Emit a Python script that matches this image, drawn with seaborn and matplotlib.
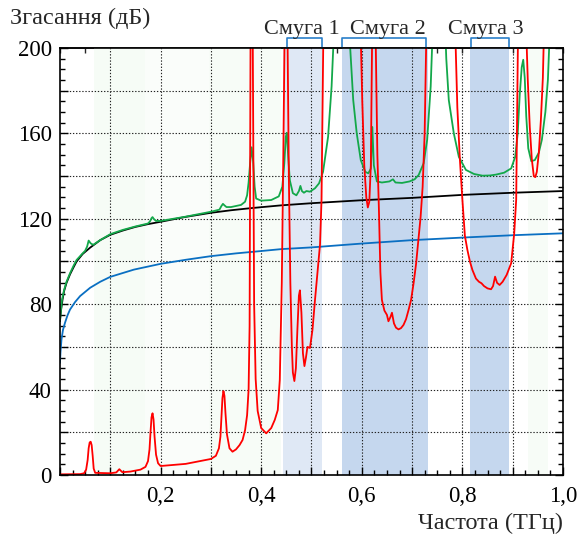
import matplotlib
matplotlib.use('Agg')
import matplotlib.pyplot as plt
import seaborn as sns
from matplotlib.ticker import MultipleLocator, FuncFormatter

# --- значення ---
black_x = [0.0, 0.002, 0.005, 0.008, 0.013, 0.02, 0.027, 0.033, 0.045, 0.06, 0.08, 0.1, 0.125,
           0.15, 0.175, 0.2, 0.25, 0.3, 0.34, 0.38, 0.44, 0.5, 0.6, 0.7, 0.8, 0.9, 1.0]
black_y = [72.0, 77.0, 82.0, 86.0, 90.0, 94.0, 97.3, 100.0, 103.5, 106.5, 110.0, 112.5, 114.5,
           116.2, 117.5, 118.6, 120.9, 122.8, 124.0, 125.0, 126.3, 127.3, 128.7, 129.8, 131.2, 132.2, 133.0]

blue_x = [0.0, 0.001, 0.003, 0.006, 0.01, 0.015, 0.02, 0.03, 0.04, 0.06, 0.08, 0.1, 0.147, 0.2,
          0.25, 0.3, 0.35, 0.4, 0.44, 0.5, 0.6, 0.7, 0.8, 0.9, 1.0]
blue_y = [52.5, 57.5, 63.5, 68.0, 71.3, 74.8, 77.5, 81.0, 83.8, 87.7, 90.5, 92.8, 96.2, 98.9,
          100.8, 102.5, 103.8, 104.9, 105.8, 106.6, 108.4, 110.0, 111.2, 112.3, 113.2]

green_x = [0.0, 0.002, 0.004, 0.008, 0.013, 0.02, 0.027, 0.033, 0.045, 0.05, 0.054, 0.057, 0.061,
           0.066, 0.08, 0.1, 0.125, 0.15, 0.175, 0.179, 0.182, 0.184, 0.187, 0.191, 0.2, 0.25, 0.3,
           0.317, 0.321, 0.324, 0.327, 0.331, 0.34, 0.36, 0.368, 0.372, 0.375, 0.378, 0.381, 0.384,
           0.387, 0.39, 0.4, 0.42, 0.435, 0.442, 0.446, 0.449, 0.451, 0.454,
           0.457, 0.463, 0.47, 0.475, 0.478, 0.481, 0.485, 0.49, 0.497, 0.507, 0.515, 0.523,
           0.533, 0.54, 0.546, 0.573, 0.577, 0.583, 0.59, 0.598, 0.607, 0.613, 0.618, 0.621,
           0.624, 0.63, 0.64, 0.655, 0.662, 0.667, 0.68, 0.695, 0.705, 0.713, 0.723, 0.73,
           0.737, 0.742, 0.765, 0.768, 0.773, 0.783, 0.793, 0.807, 0.823, 0.84, 0.855, 0.867,
           0.883, 0.897, 0.905, 0.91, 0.914, 0.918, 0.921, 0.924, 0.927, 0.931, 0.937, 0.944,
           0.952, 0.958, 0.965, 0.97, 0.975, 1.0]
green_y = [72.6, 77.5, 82.0, 86.5, 90.5, 94.5, 98.0, 100.7, 103.8, 105.0, 107.0, 109.8, 108.5,
           107.8, 110.0, 112.8, 114.8, 116.4, 117.8, 118.8, 120.3, 120.8, 119.8, 119.0, 119.0, 121.0, 123.3,
           124.3, 126.0, 127.0, 126.3, 125.5, 125.5, 126.5, 128.0, 131.0, 137.0, 146.0, 153.5, 147.0,
           135.0, 129.5, 128.5, 128.8, 130.5, 135.0, 146.0, 158.5, 160.3, 148.0,
           138.0, 132.0, 131.0, 133.0, 135.4, 133.0, 132.2, 133.0, 132.7, 134.3, 136.6, 142.0,
           158.4, 182.0, 215.0, 215.0, 200.0, 175.6, 160.0, 147.5, 142.0, 141.3, 143.5, 163.0,
           145.0, 137.5, 137.0, 137.5, 138.5, 137.0, 136.8, 137.5, 138.5, 140.5, 146.0, 157.0,
           182.0, 215.0, 215.0, 195.0, 175.6, 160.0, 149.0, 142.9, 141.0, 140.2, 140.3, 140.7,
           141.6, 143.6, 149.0, 160.0, 178.0, 191.0, 194.5, 186.0, 168.0, 153.0, 147.0, 147.5,
           151.0, 157.0, 170.0, 185.0, 215.0, 215.0]

red_x = [0.0, 0.04, 0.048, 0.052, 0.055, 0.057, 0.059, 0.061, 0.063, 0.065, 0.067, 0.07, 0.1,
         0.112, 0.116, 0.118, 0.12, 0.124, 0.14, 0.16, 0.17, 0.175, 0.178, 0.18, 0.182, 0.184,
         0.186, 0.188, 0.191, 0.195, 0.2, 0.25, 0.3, 0.31, 0.316, 0.319, 0.321, 0.323, 0.325,
         0.327, 0.329, 0.332, 0.337, 0.343, 0.35, 0.357, 0.363, 0.368, 0.372, 0.375, 0.377, 0.379,
         0.383, 0.386, 0.389, 0.393, 0.4, 0.41, 0.42, 0.427, 0.433, 0.437, 0.441, 0.444, 0.447,
         0.452, 0.455, 0.458, 0.461, 0.463, 0.466, 0.469, 0.472, 0.475, 0.477, 0.48, 0.483, 0.486,
         0.489, 0.492, 0.497, 0.502, 0.507, 0.512, 0.517, 0.52, 0.524, 0.597, 0.601, 0.605, 0.609,
         0.612, 0.615, 0.618, 0.621, 0.627, 0.631, 0.634, 0.637, 0.64, 0.645, 0.65, 0.653, 0.657,
         0.66, 0.664, 0.668, 0.673, 0.678, 0.683, 0.688, 0.693, 0.698, 0.703, 0.708, 0.713, 0.717,
         0.721, 0.725, 0.729, 0.785, 0.79, 0.795, 0.8, 0.805, 0.81, 0.815, 0.82, 0.827, 0.833,
         0.838, 0.843, 0.85, 0.857, 0.861, 0.865, 0.869, 0.874, 0.88, 0.888, 0.897, 0.903, 0.907,
         0.911, 0.926, 0.93, 0.934, 0.938, 0.942, 0.945, 0.948, 0.952, 0.956, 0.96, 0.963, 1.0]
red_y = [0.3, 0.4, 0.8, 2.5, 7.0, 12.5, 15.2, 15.6, 14.0, 9.0, 3.0, 1.0, 0.8,
         1.2, 2.2, 2.7, 2.2, 1.3, 1.6, 2.5, 3.8, 6.5, 12.0, 20.0, 27.0, 28.9,
         26.0, 18.0, 9.5, 5.5, 4.2, 5.2, 7.5, 9.0, 12.5, 18.0, 27.0, 36.0, 39.3,
         37.0, 29.0, 19.0, 12.5, 10.9, 12.0, 14.0, 16.4, 21.0, 28.0, 40.0, 70.0, 215.0,
         215.0, 80.0, 45.0, 30.0, 22.0, 19.5, 22.0, 25.8, 30.4, 44.5, 90.0, 150.0, 215.0,
         215.0, 140.0, 90.0, 60.0, 48.0, 44.0, 50.0, 68.0, 84.0, 86.5, 76.0, 57.0, 51.0,
         55.0, 60.0, 59.5, 68.0, 82.0, 95.0, 108.0, 129.0, 215.0, 215.0, 175.0, 145.0, 130.0,
         125.3, 128.0, 145.0, 215.0, 215.0, 150.0, 125.0, 95.0, 82.0, 77.0, 75.0, 72.0, 74.0,
         76.0, 71.0, 69.0, 68.2, 68.8, 70.3, 73.0, 77.3, 82.0, 89.8, 99.0, 111.0, 121.0,
         135.0, 160.0, 215.0, 215.0, 172.0, 148.0, 129.0, 112.0, 105.4, 100.0, 96.0, 92.0, 90.5,
         89.8, 88.5, 87.4, 87.0, 88.5, 92.9, 90.0, 89.0, 90.5, 93.7, 99.2, 113.0, 129.0,
         215.0, 215.0, 185.0, 163.0, 148.0, 140.0, 139.5, 142.0, 151.0, 166.0, 186.0, 215.0, 215.0]

# смуги пропускання
band_names = ['Смуга 1', 'Смуга 2', 'Смуга 3']
band_lo = [0.444, 0.56, 0.816]
band_hi = [0.52, 0.732, 0.892]
bracket_lo = [0.452, 0.56, 0.818]
bracket_hi = [0.52, 0.728, 0.892]
label_x = [0.48, 0.652, 0.846]

# світло-зелені ділянки фону
mint_lo = [0.068, 0.17, 0.297, 0.93]
mint_hi = [0.17, 0.297, 0.44, 0.97]

sns.set_theme(style='ticks')
plt.rcParams['font.family'] = ['Liberation Serif', 'DejaVu Serif']
plt.rcParams['axes.linewidth'] = 1.2

fig = plt.figure(figsize=(5.84, 5.37), dpi=100)
ax = fig.add_axes([0.1027, 0.1155, 0.8613, 0.7951])

mint_cols = ['#f6fcf6', '#fafdfa', '#f7fcf7', '#f7fcf7']
for lo, hi, c in zip(mint_lo, mint_hi, mint_cols):
    ax.axvspan(lo, hi, color=c, lw=0, zorder=0.5)
band_cols = ['#dfe8f5', '#c5d7ee', '#c5d7ee']
for lo, hi, c in zip(band_lo, band_hi, band_cols):
    ax.axvspan(lo, hi, color=c, lw=0, zorder=0.6)

sns.lineplot(x=black_x, y=black_y, color='black', lw=1.3, ax=ax, estimator=None, sort=False)
sns.lineplot(x=blue_x, y=blue_y, color='#0a6fc2', lw=1.3, ax=ax, estimator=None, sort=False)
sns.lineplot(x=green_x, y=green_y, color='#13a84a', lw=1.3, ax=ax, estimator=None, sort=False)
sns.lineplot(x=red_x, y=red_y, color='#ff0000', lw=1.3, ax=ax, estimator=None, sort=False)

ax.set_xlim(0, 1.0)
ax.set_ylim(0, 200)
ax.set_xlabel('')
ax.set_ylabel('')

# сітка
ax.set_axisbelow('line')
for gx in [0.1 * i for i in range(1, 10)]:
    ax.axvline(gx, color='#222222', lw=0.8, ls=(0, (1.2, 1.6)), zorder=1)
for gy in range(20, 200, 20):
    ax.axhline(gy, color='#222222', lw=0.8, ls=(0, (1.2, 1.6)), zorder=1)

ax.xaxis.set_major_locator(MultipleLocator(0.1))
ax.xaxis.set_minor_locator(MultipleLocator(0.025))
ax.xaxis.set_major_formatter(FuncFormatter(
    lambda v, p: ('%.1f' % v).replace('.', ',') if (round(v * 10) % 2 == 0 and v > 0.01) else ''))
ax.yaxis.set_major_locator(MultipleLocator(20))
ax.yaxis.set_minor_locator(MultipleLocator(5))
ax.yaxis.set_major_formatter(FuncFormatter(
    lambda v, p: '%d' % v if round(v) % 40 == 0 else ''))

ax.tick_params(axis='both', which='both', direction='in', colors='black', labelsize=16.5,
               width=1.0, pad=6)
ax.tick_params(axis='y', which='both', right=True)
ax.tick_params(which='major', length=6)
ax.tick_params(which='minor', length=3.5)
ax.tick_params(axis='x', pad=8)

top = ax.secondary_xaxis('top')
top.xaxis.set_major_locator(MultipleLocator(0.05))
top.tick_params(direction='in', length=3.5, width=1.0, labeltop=False)
top.spines['top'].set_linewidth(1.2)

for s in ax.spines.values():
    s.set_color('black')
    s.set_visible(True)

# дужки смуг
tr = ax.get_xaxis_transform()
for lo, hi in zip(bracket_lo, bracket_hi):
    ax.plot([lo, lo, hi, hi], [1.0, 1.024, 1.024, 1.0], transform=tr, clip_on=False,
            color='#2a7fc9', lw=1.2)
for name, cx in zip(band_names, label_x):
    ax.text(cx, 1.033, name, transform=tr, ha='center', va='baseline', fontsize=16)

fig.text(10 / 584, 1 - 18 / 537, 'Згасання (дБ)', ha='left', va='center', fontsize=17.5)
fig.text(563 / 584, 1 - 523 / 537, 'Частота (ТГц)', ha='right', va='center', fontsize=17.5)

fig.savefig('out.png', dpi=100)
